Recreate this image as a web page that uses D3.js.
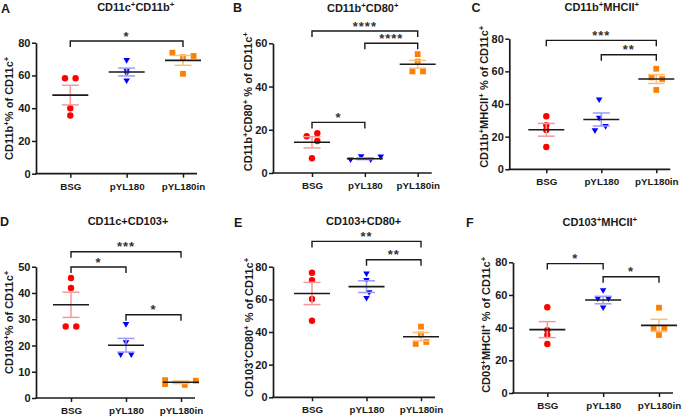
<!DOCTYPE html>
<html><head><meta charset="utf-8">
<script src="https://cdn.jsdelivr.net/npm/d3@7"></script>
<style>body{margin:0;background:#fff} svg{display:block}</style>
</head><body><svg id="c" width="696" height="418"></svg>
<script>
// ---------- data ----------
const groups = ["BSG", "pYL180", "pYL180in"];
const panelLetters = ["A", "B", "C", "D", "E", "F"];
const panelTitles = ["CD11c^+CD11b^+", "CD11b^+CD80^+", "CD11b^+MHCII^+", "CD11c+CD103+", "CD103+CD80+", "CD103^+MHCII^+"];
const yAxisLabels = ["CD11b^+% of CD11c^+", "CD11b^+CD80^+ % of CD11c^+", "CD11b^+MHCII^+ % of CD11c^+",
                     "CD103^+% of CD11c^+", "CD103^+CD80^+ % of CD11c^+", "CD03^+MHCII^+ % of CD11c^+"];
const yMax = [80, 60, 80, 50, 80, 80];
const yStep = [20, 20, 20, 10, 20, 20];

// individual points per group (4 mice) and their beeswarm column (jitter) index
const aValues = [[58.3, 58.3, 40, 35.5], [69, 62.5, 61, 56.6], [73.9, 71.1, 71.9, 61]];
const aJitter = [[-1, 1, 0, 0], [0, 0, 0, 0], [-2, 0, 2, 0]];
const aMean = [48, 62.1, 69.2];
const aSem = [6.0, 2.4, 3.0];

const bValues = [[17, 18.4, 14.8, 6.8], [6.0, 7.5, 6.0, 7.3], [55, 51.5, 47, 47]];
const bJitter = [[-1, 1, 1, 0], [-2.7, -0.7, 1.1, 3], [0, 0, -1, 1]];
const bMean = [14.2, 6.6, 50.3];
const bSem = [2.6, 0.4, 1.8];

const cValues = [[32.5, 27, 24, 13.7], [42.4, 31.2, 26.1, 23.5], [61.6, 56.3, 55.3, 48.6]];
const cJitter = [[0, 0, 0, 0], [-0.4, -0.4, 0.8, -1.2], [0, -0.9, 1.1, 0]];
const cMean = [24.2, 30.5, 55.3];
const cSem = [3.9, 4.0, 2.7];

const dValues = [[45.7, 41.9, 27.2, 27.2], [27.9, 21, 16.4, 16.4], [6.8, 5.3, 5, 6.6]];
const dJitter = [[0, 0, -1, 1], [0, 0, -1, 1], [-3, -3, 0.7, 2.8]];
const dMean = [35.5, 20.1, 6.0];
const dSem = [4.8, 2.6, 0.5];

const eValues = [[76.3, 71.8, 60.2, 46.9], [75.5, 71.5, 64, 60.5], [43.3, 38.5, 33.9, 32.7]];
const eJitter = [[0, 0, 0, 0], [0, 0, 0.5, 0], [0, 0, 1, -1]];
const eMean = [63.6, 67.8, 37.1];
const eSem = [6.8, 3.6, 2.6];

const fValues = [[52.5, 38.5, 35.5, 30], [62.5, 57.5, 57.5, 52], [52.2, 39.8, 39.8, 35.5]];
const fJitter = [[0, 0, 0, 0], [0, -1, 1, 0], [0, -1, 1, 0]];
const fMean = [38.8, 56.9, 41.4];
const fSem = [4.9, 2.3, 3.7];

// significance brackets: [from group, to group, level (data units), label]
const aBrackets = [[0, 2, 81, "*"]];
const bBrackets = [[0, 1, 23.4, "*"], [1, 2, 60, "****"], [0, 2, 65.7, "****"]];
const cBrackets = [[0, 2, 79, "***"], [1, 2, 70.2, "**"]];
const dBrackets = [[0, 2, 55.7, "***"], [0, 1, 49.9, "*"], [1, 2, 31.7, "*"]];
const eBrackets = [[0, 2, 95.5, "**"], [1, 2, 84.3, "**"]];
const fBrackets = [[0, 1, 79.2, "*"], [1, 2, 71.2, "*"]];

const panelValues = [aValues, bValues, cValues, dValues, eValues, fValues];
const panelJitter = [aJitter, bJitter, cJitter, dJitter, eJitter, fJitter];
const panelMean = [aMean, bMean, cMean, dMean, eMean, fMean];
const panelSem = [aSem, bSem, cSem, dSem, eSem, fSem];
const panelBrackets = [aBrackets, bBrackets, cBrackets, dBrackets, eBrackets, fBrackets];

// ---------- layout / style ----------
const layout = [
  {ax: 36,    yTop: 42.7,  y0: 173.7, x0: 70.3,  x2: 183,   tX: 135.7, tY: 11.3,  lX: 1,     lY: 12.7,  yl: 13,  ylY: 108.3},
  {ax: 273,   yTop: 43.3,  y0: 173,   x0: 312,   x2: 417.7, tX: 362.8, tY: 12.3,  lX: 233,   lY: 11.7,  yl: 252, ylY: 101.7},
  {ax: 509.3, yTop: 38.7,  y0: 169.3, x0: 546.3, x2: 656.3, tX: 601.8, tY: 11.3,  lX: 471.5, lY: 11.7,  yl: 488, ylY: 96.7},
  {ax: 36,    yTop: 266.7, y0: 398,   x0: 71,    x2: 181,   tX: 128,   tY: 224.7, lX: 0,     lY: 226.3, yl: 13,  ylY: 322.3},
  {ax: 273,   yTop: 266.7, y0: 397.3, x0: 312,   x2: 421,   tX: 363.7, tY: 224.7, lX: 234,   lY: 227,   yl: 253, ylY: 327.3},
  {ax: 513,   yTop: 262.3, y0: 393,   x0: 547.3, x2: 659,   tX: 599.8, tY: 225.7, lX: 466,   lY: 227,   yl: 490, ylY: 324.8}
];
const colors = ["#ff0000", "#0000ff", "#ff8000"];
const errColors = ["#f49a9a", "#9a9aff", "#ffbd7a"];
const FONT = "'Liberation Sans', Arial, sans-serif";
const INK = "#1a1a1a";
const jitUnit = 5.3;

const svg = d3.select("#c");
svg.append("rect").attr("width", 696).attr("height", 418).attr("fill", "#fff");

function richText(sel, str, size) {
  // "^+" marks a superscript plus
  const parts = str.split(/(\^\+)/);
  let lastSup = false;
  parts.forEach(p => {
    if (p === "") return;
    if (p === "^+") {
      sel.append("tspan").attr("font-size", size * 0.72).attr("dy", -size * 0.38).text("+");
      lastSup = true;
    } else {
      sel.append("tspan").attr("dy", lastSup ? size * 0.38 : 0).text(p);
      lastSup = false;
    }
  });
}

layout.forEach((L, p) => {
  const g = svg.append("g");
  const y = d3.scaleLinear().domain([0, yMax[p]]).range([L.y0, L.yTop]);
  const x = d3.scalePoint().domain(groups).range([L.x0, L.x2]);

  // y axis
  const ya = g.append("g").attr("transform", `translate(${L.ax},0)`)
    .call(d3.axisLeft(y).tickValues(d3.range(0, yMax[p] + 0.001, yStep[p])).tickSize(4).tickSizeOuter(0).tickPadding(1.5));
  ya.select(".domain").attr("stroke", INK).attr("stroke-width", 1.7);
  ya.selectAll(".tick line").attr("stroke", INK).attr("stroke-width", 1.5);
  ya.selectAll(".tick text").attr("font-family", FONT).attr("font-weight", "bold").attr("font-size", 11).attr("fill", INK);

  // x axis
  g.append("line").attr("x1", L.ax - 0.8).attr("x2", L.x2 + 14).attr("y1", L.y0).attr("y2", L.y0)
    .attr("stroke", INK).attr("stroke-width", 1.7);
  const xa = g.append("g").attr("transform", `translate(0,${L.y0})`)
    .call(d3.axisBottom(x).tickSize(4).tickPadding(5));
  xa.select(".domain").remove();
  xa.selectAll(".tick line").attr("stroke", INK).attr("stroke-width", 1.5);
  xa.selectAll(".tick text").attr("font-family", FONT).attr("font-weight", "bold").attr("font-size", 9.8).attr("fill", INK);

  // points
  groups.forEach((grp, gi) => {
    const cx = x(grp);
    panelValues[p][gi].forEach((v, k) => {
      const px = cx + panelJitter[p][gi][k] * jitUnit, py = y(v);
      if (gi === 0) {
        g.append("circle").attr("cx", px).attr("cy", py).attr("r", 3.2).attr("fill", colors[0]);
      } else if (gi === 1) {
        const s = 3.3;
        g.append("path").attr("d", `M${px - s},${py - s * 0.8}L${px + s},${py - s * 0.8}L${px},${py + s * 0.9}Z`).attr("fill", colors[1]);
      } else {
        g.append("rect").attr("x", px - 2.9).attr("y", py - 2.9).attr("width", 5.8).attr("height", 5.8).attr("fill", colors[2]);
      }
    });
    // error bar (SEM)
    const m = panelMean[p][gi], s = panelSem[p][gi];
    const ec = errColors[gi];
    g.append("line").attr("x1", cx).attr("x2", cx).attr("y1", y(m + s)).attr("y2", y(m - s)).attr("stroke", ec).attr("stroke-width", 1.5);
    [m + s, m - s].forEach(v => g.append("line").attr("x1", cx - 8.5).attr("x2", cx + 8.5).attr("y1", y(v)).attr("y2", y(v))
      .attr("stroke", ec).attr("stroke-width", 1.5));
    // mean line
    g.append("line").attr("x1", cx - 18).attr("x2", cx + 18).attr("y1", y(m)).attr("y2", y(m))
      .attr("stroke", INK).attr("stroke-width", 1.6);
  });

  // significance brackets
  panelBrackets[p].forEach(([i, j, lvl, lab]) => {
    const x1 = x(groups[i]), x2 = x(groups[j]), yy = y(lvl);
    g.append("path").attr("d", `M${x1},${yy + 6}V${yy}H${x2}V${yy + 6}`)
      .attr("fill", "none").attr("stroke", INK).attr("stroke-width", 1.4);
    g.append("text").attr("x", (x1 + x2) / 2).attr("y", yy - 0.3).attr("text-anchor", "middle")
      .attr("font-family", FONT).attr("font-weight", "bold").attr("font-size", 13).attr("fill", "#333")
      .attr("letter-spacing", 1).text(lab);
  });

  // title
  const t = g.append("text").attr("x", L.tX).attr("y", L.tY).attr("text-anchor", "middle")
    .attr("font-family", FONT).attr("font-weight", "bold").attr("font-size", 11).attr("fill", INK);
  richText(t, panelTitles[p], 11);

  // panel letter
  g.append("text").attr("x", L.lX).attr("y", L.lY).attr("font-family", FONT).attr("font-weight", "bold")
    .attr("font-size", 12.5).attr("fill", INK).text(panelLetters[p]);

  // y label
  const yl = g.append("text").attr("transform", `translate(${L.yl},${L.ylY}) rotate(-90)`).attr("text-anchor", "middle")
    .attr("font-family", FONT).attr("font-weight", "bold").attr("font-size", 11).attr("fill", INK);
  richText(yl, yAxisLabels[p], 11);
});
</script></body></html>
